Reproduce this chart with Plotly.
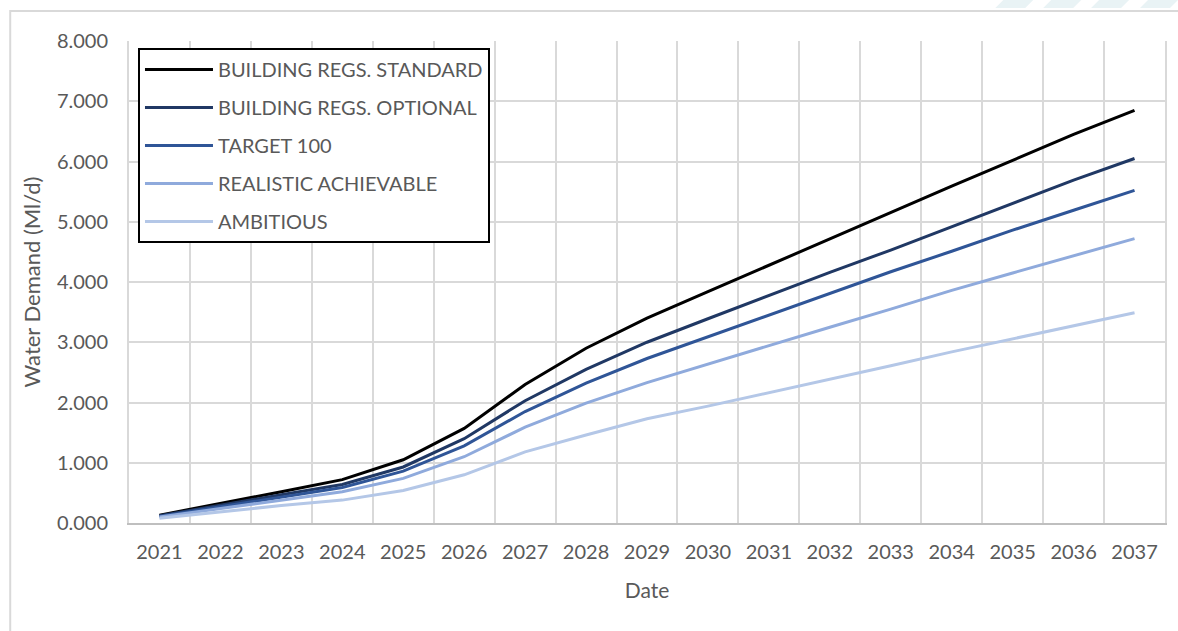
import plotly.graph_objects as go

years = [str(y) for y in range(2021, 2038)]

standard = [0.13, 0.32, 0.52, 0.72, 1.05, 1.57, 2.30, 2.90, 3.40, 3.84, 4.28, 4.72, 5.15, 5.59, 6.02, 6.45, 6.85]
optional = [0.12, 0.30, 0.47, 0.64, 0.93, 1.40, 2.03, 2.55, 3.00, 3.39, 3.78, 4.16, 4.53, 4.92, 5.31, 5.69, 6.05]
target100 = [0.11, 0.27, 0.43, 0.59, 0.86, 1.28, 1.85, 2.32, 2.73, 3.09, 3.45, 3.82, 4.17, 4.51, 4.86, 5.19, 5.52]
realistic = [0.10, 0.24, 0.38, 0.52, 0.74, 1.10, 1.59, 1.99, 2.33, 2.64, 2.94, 3.25, 3.55, 3.86, 4.15, 4.43, 4.72]
ambitious = [0.08, 0.19, 0.29, 0.38, 0.54, 0.80, 1.18, 1.46, 1.73, 1.94, 2.16, 2.39, 2.61, 2.84, 3.06, 3.28, 3.49]

series_names = ["BUILDING REGS. STANDARD", "BUILDING REGS. OPTIONAL", "TARGET 100",
                "REALISTIC ACHIEVABLE", "AMBITIOUS"]
series_values = [standard, optional, target100, realistic, ambitious]
series_colors = ["#000000", "#203864", "#2F5597", "#8FAADC", "#B4C7E7"]

W, H = 1178, 631
L, R, T, B = 129, 1167, 41, 523
FONT = "Lato"
GREY = "#595959"

fig = go.Figure()
for i, (name, vals, col) in enumerate(zip(series_names, series_values, series_colors)):
    fig.add_trace(go.Scatter(x=years, y=vals, mode="lines", name=name,
                             legendgroup=f"g{i}",
                             line=dict(color=col, width=3)))

def px(x):
    return (x - L) / (R - L)

def py(y):
    return (B - y) / (B - T)

shapes = []
# outer chart border
shapes.append(dict(type="rect", xref="paper", yref="paper",
                   x0=px(10), x1=px(1190), y0=py(11), y1=py(645),
                   line=dict(color="#d9d9d9", width=2), layer="below"))
# decorative stripes top right
for s in [997, 1045, 1093, 1142]:
    path = (f"M {px(s+8)} {py(0)} L {px(s+38)} {py(0)} "
            f"L {px(s+30)} {py(8)} L {px(s)} {py(8)} Z")
    shapes.append(dict(type="path", xref="paper", yref="paper", path=path,
                       fillcolor="#e9f3f5", line=dict(width=0), layer="below"))

fig.update_layout(
    width=W, height=H,
    margin=dict(l=L, r=W - R, t=T, b=H - B),
    paper_bgcolor="white", plot_bgcolor="white",
    font=dict(family=FONT, color=GREY, size=20),
    shapes=shapes,
    showlegend=True,
    legend=dict(x=px(138), y=py(48), xanchor="left", yanchor="top",
                bgcolor="white", bordercolor="black", borderwidth=2,
                font=dict(family=FONT, size=20, color=GREY),
                tracegroupgap=9, itemwidth=68,
                ),
    xaxis=dict(type="category", tickson="boundaries", showgrid=True,
               gridcolor="#d9d9d9", gridwidth=2,
               showline=True, linecolor="#bfbfbf", linewidth=2,
               ticks="", ticklabelstandoff=10,
               tickfont=dict(size=20, color=GREY),
               range=[-0.5, 16.5],
               title=dict(text="Date", font=dict(size=21, color=GREY), standoff=21)),
    yaxis=dict(range=[0, 8], dtick=1, tickformat=".3f", showgrid=True,
               gridcolor="#d9d9d9", gridwidth=2, zeroline=False,
               showline=True, linecolor="#d9d9d9", linewidth=2, mirror=True,
               ticks="", ticklabelstandoff=15,
               tickfont=dict(size=20, color=GREY),
               title=dict(text="Water Demand (Ml/d)", font=dict(size=22, color=GREY), standoff=10)),
)

fig.write_html("out.html")
